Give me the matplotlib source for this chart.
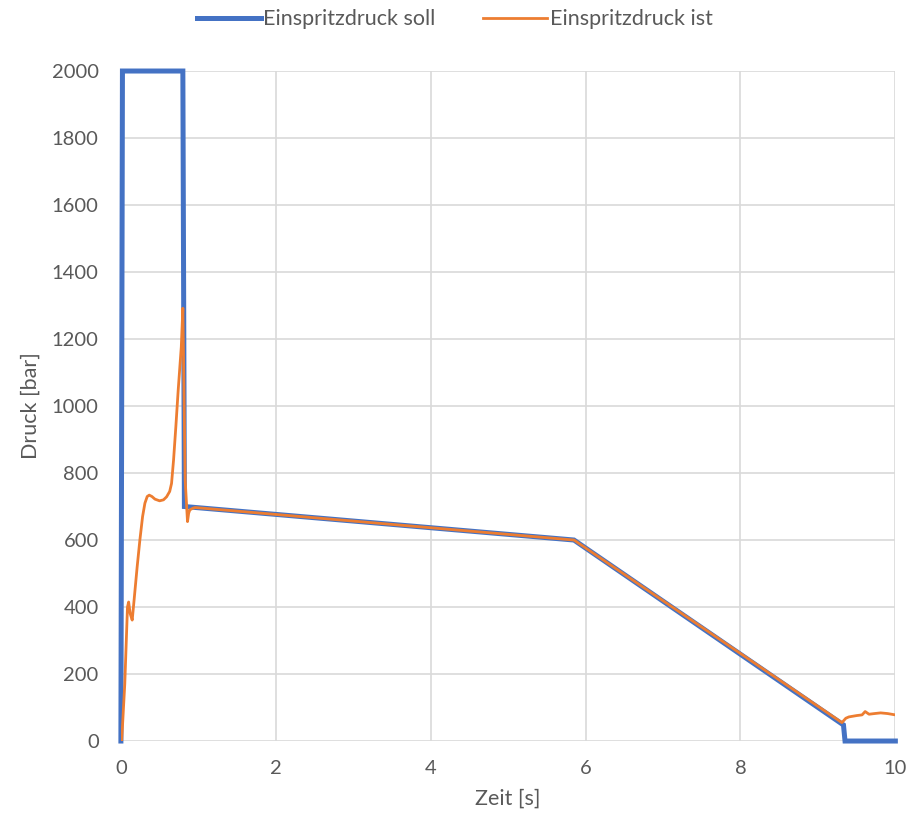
import matplotlib.pyplot as plt

# soll (setpoint) pressure profile
t_soll = [0.0, 0.02, 0.80, 0.82, 5.85, 9.33, 9.35, 10.0]
p_soll = [0, 2000, 2000, 700, 600, 48, 0, 0]

# ist (measured) pressure
t_ist = [0.01, 0.05, 0.085, 0.10, 0.12, 0.146, 0.17, 0.21, 0.245, 0.28, 0.31,
         0.34, 0.366, 0.40, 0.44, 0.50, 0.55, 0.59, 0.63, 0.654, 0.68, 0.71,
         0.74, 0.78, 0.80, 0.83, 0.86, 0.875, 0.89, 0.93, 0.96, 5.85,
         9.31, 9.36, 9.40, 9.50, 9.57, 9.61, 9.66, 9.73, 9.81, 9.90, 10.0]
p_ist = [0, 170, 400, 415, 380, 361, 420, 520, 600, 670, 710,
         730, 734, 730, 722, 717, 720, 729, 745, 769, 839, 940,
         1048, 1177, 1292, 779, 655, 680, 690, 695, 697, 600,
         55, 68, 72, 76, 78, 88, 80, 82, 84, 82, 78]

x_ticks = [0, 2, 4, 6, 8, 10]
y_ticks = list(range(0, 2001, 200))

plt.rcParams['font.family'] = ['Lato', 'DejaVu Sans']
txt = '#595959'

fig = plt.figure(figsize=(9.09, 8.23), dpi=100)
ax = fig.add_axes([0.133, 0.0996, 0.852, 0.8141])

ax.plot(t_soll, p_soll, color='#4472C4', lw=3.6, label='Einspritzdruck soll',
        solid_joinstyle='miter', zorder=3, clip_on=False)
ax.plot(t_ist, p_ist, color='#ED7D31', lw=2.0, label='Einspritzdruck ist', zorder=4)

ax.set_xlim(0, 10)
ax.set_ylim(0, 2000)
ax.set_xticks(x_ticks)
ax.set_yticks(y_ticks)
ax.grid(True, color='#D9D9D9', lw=1.2)
ax.set_axisbelow(True)
for s in ax.spines.values():
    s.set_visible(False)
ax.tick_params(length=0, labelsize=14.5, colors=txt)
ax.tick_params(axis='x', pad=14)
ax.tick_params(axis='y', pad=16)

ax.set_xlabel('Zeit [s]', fontsize=15.5, color=txt, labelpad=8)
ax.set_ylabel('Druck [bar]', fontsize=15.5, color=txt, labelpad=8)

fig.legend(loc='upper center', bbox_to_anchor=(0.5, 1.012), ncol=2, frameon=False,
           fontsize=15.5, labelcolor=txt, handlelength=3.0, handletextpad=0.1,
           columnspacing=2.2)

fig.savefig('out.png', dpi=100)
